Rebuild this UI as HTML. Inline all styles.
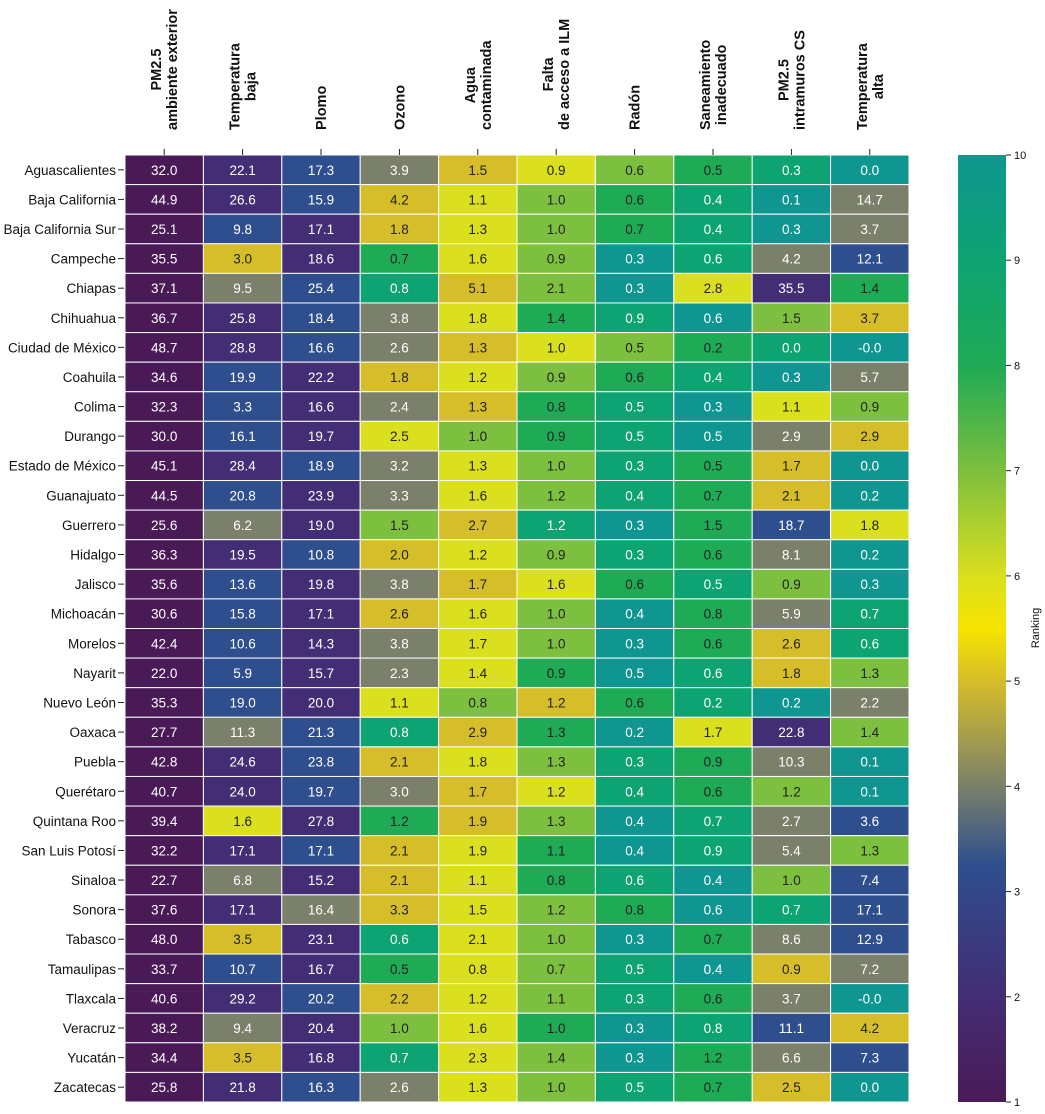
<!DOCTYPE html>
<html><head><meta charset="utf-8">
<style>
body{margin:0;background:#fff;font-family:"Liberation Sans","DejaVu Sans",sans-serif;}
svg text{font-family:"Liberation Sans","DejaVu Sans",sans-serif;}
</style></head>
<body>
<svg id="chart" width="1045" height="1109" xmlns="http://www.w3.org/2000/svg">
<defs>
<linearGradient id="cbar" x1="0" y1="1" x2="0" y2="0">
<stop offset="0" stop-color="#4a1a57"/>
<stop offset="0.111" stop-color="#432d74"/>
<stop offset="0.25" stop-color="#2e4e8e"/>
<stop offset="0.333" stop-color="#7a806a"/>
<stop offset="0.444" stop-color="#d6bd2a"/>
<stop offset="0.5" stop-color="#f6e400"/>
<stop offset="0.555" stop-color="#dadf1e"/>
<stop offset="0.666" stop-color="#7dbf3f"/>
<stop offset="0.777" stop-color="#1faa55"/>
<stop offset="0.888" stop-color="#0ea372"/>
<stop offset="1" stop-color="#0f9690"/>
</linearGradient>
</defs>
<g id="cells"></g>
<g id="rowlabels"></g>
<g id="collabels"></g>
<g id="colorbar">
<rect x="958" y="155" width="48" height="947" fill="url(#cbar)"/>
</g>
</svg>
<script>
const columns=[["PM2.5","ambiente exterior"],["Temperatura","baja"],["Plomo"],["Ozono"],["Agua","contaminada"],["Falta","de acceso a ILM"],["Radón"],["Saneamiento","inadecuado"],["PM2.5","intramuros CS"],["Temperatura","alta"]];
const states=["Aguascalientes","Baja California","Baja California Sur","Campeche","Chiapas","Chihuahua","Ciudad de México","Coahuila","Colima","Durango","Estado de México","Guanajuato","Guerrero","Hidalgo","Jalisco","Michoacán","Morelos","Nayarit","Nuevo León","Oaxaca","Puebla","Querétaro","Quintana Roo","San Luis Potosí","Sinaloa","Sonora","Tabasco","Tamaulipas","Tlaxcala","Veracruz","Yucatán","Zacatecas"];
const values=[
["32.0","22.1","17.3","3.9","1.5","0.9","0.6","0.5","0.3","0.0"],
["44.9","26.6","15.9","4.2","1.1","1.0","0.6","0.4","0.1","14.7"],
["25.1","9.8","17.1","1.8","1.3","1.0","0.7","0.4","0.3","3.7"],
["35.5","3.0","18.6","0.7","1.6","0.9","0.3","0.6","4.2","12.1"],
["37.1","9.5","25.4","0.8","5.1","2.1","0.3","2.8","35.5","1.4"],
["36.7","25.8","18.4","3.8","1.8","1.4","0.9","0.6","1.5","3.7"],
["48.7","28.8","16.6","2.6","1.3","1.0","0.5","0.2","0.0","-0.0"],
["34.6","19.9","22.2","1.8","1.2","0.9","0.6","0.4","0.3","5.7"],
["32.3","3.3","16.6","2.4","1.3","0.8","0.5","0.3","1.1","0.9"],
["30.0","16.1","19.7","2.5","1.0","0.9","0.5","0.5","2.9","2.9"],
["45.1","28.4","18.9","3.2","1.3","1.0","0.3","0.5","1.7","0.0"],
["44.5","20.8","23.9","3.3","1.6","1.2","0.4","0.7","2.1","0.2"],
["25.6","6.2","19.0","1.5","2.7","1.2","0.3","1.5","18.7","1.8"],
["36.3","19.5","10.8","2.0","1.2","0.9","0.3","0.6","8.1","0.2"],
["35.6","13.6","19.8","3.8","1.7","1.6","0.6","0.5","0.9","0.3"],
["30.6","15.8","17.1","2.6","1.6","1.0","0.4","0.8","5.9","0.7"],
["42.4","10.6","14.3","3.8","1.7","1.0","0.3","0.6","2.6","0.6"],
["22.0","5.9","15.7","2.3","1.4","0.9","0.5","0.6","1.8","1.3"],
["35.3","19.0","20.0","1.1","0.8","1.2","0.6","0.2","0.2","2.2"],
["27.7","11.3","21.3","0.8","2.9","1.3","0.2","1.7","22.8","1.4"],
["42.8","24.6","23.8","2.1","1.8","1.3","0.3","0.9","10.3","0.1"],
["40.7","24.0","19.7","3.0","1.7","1.2","0.4","0.6","1.2","0.1"],
["39.4","1.6","27.8","1.2","1.9","1.3","0.4","0.7","2.7","3.6"],
["32.2","17.1","17.1","2.1","1.9","1.1","0.4","0.9","5.4","1.3"],
["22.7","6.8","15.2","2.1","1.1","0.8","0.6","0.4","1.0","7.4"],
["37.6","17.1","16.4","3.3","1.5","1.2","0.8","0.6","0.7","17.1"],
["48.0","3.5","23.1","0.6","2.1","1.0","0.3","0.7","8.6","12.9"],
["33.7","10.7","16.7","0.5","0.8","0.7","0.5","0.4","0.9","7.2"],
["40.6","29.2","20.2","2.2","1.2","1.1","0.3","0.6","3.7","-0.0"],
["38.2","9.4","20.4","1.0","1.6","1.0","0.3","0.8","11.1","4.2"],
["34.4","3.5","16.8","0.7","2.3","1.4","0.3","1.2","6.6","7.3"],
["25.8","21.8","16.3","2.6","1.3","1.0","0.5","0.7","2.5","0.0"]];
const cbTicks=[1,2,3,4,5,6,7,8,9,10];

const NS="http://www.w3.org/2000/svg";
const X0=125,X1=909,Y0=155,Y1=1102;
const cw=(X1-X0)/columns.length, rh=(Y1-Y0)/states.length;
const xPos=i=>X0+i*cw;
const yPos=j=>Y0+j*rh;
const rankColors=["#4a1a57","#432d74","#2e4e8e","#7a806a","#d6bd2a","#dadf1e","#7dbf3f","#1faa55","#0ea372","#0f9690"];
const darkText=[false,false,false,false,true,true,true,true,false,false];
function mk(tag,attrs,parent){const e=document.createElementNS(NS,tag);for(const k in attrs)e.setAttribute(k,attrs[k]);parent.appendChild(e);return e;}
const cells=document.getElementById('cells');
values.forEach((row,j)=>{
  const nums=row.map(parseFloat);
  const order=nums.map((v,i)=>i).sort((a,b)=>(nums[b]-nums[a])||(a-b));
  const rank=[];order.forEach((ci,r)=>rank[ci]=r);
  row.forEach((s,i)=>{
    const r=mk('rect',{x:xPos(i),y:yPos(j),width:cw,height:rh,fill:rankColors[rank[i]],stroke:'#ffffff','stroke-width':1},cells);
    
    
    const t=mk('text',{x:xPos(i)+cw/2,y:yPos(j)+rh/2+5,'text-anchor':'middle','font-size':13.5,fill:darkText[rank[i]]?'#222':'#fff'},cells);
    t.textContent=s;
    
    
  });
});
const rl=document.getElementById('rowlabels');
states.forEach((s,j)=>{
  const t=mk('text',{x:116,y:yPos(j)+rh/2+5,'text-anchor':'end','font-size':13.5,fill:'#111'},rl);
  t.textContent=s;
  
  
  mk('line',{x1:118,x2:124,y1:yPos(j)+rh/2,y2:yPos(j)+rh/2,stroke:'#222','stroke-width':1},rl);
});
const cl=document.getElementById('collabels');
columns.forEach((lines,i)=>{
  const cx=xPos(i)+cw/2;
  mk('line',{x1:cx,x2:cx,y1:149,y2:155,stroke:'#222','stroke-width':1},cl);
  const n=lines.length;
  lines.forEach((ln,k)=>{
    const off=(k-(n-1)/2)*16+5;
    const t=mk('text',{x:0,y:0,'text-anchor':'middle','font-size':14.5,'font-weight':'bold',fill:'#111',
      transform:`translate(${cx+off},${130-0}) rotate(-90)`},cl);
    t.textContent=ln;
    
    
  });
});
// align multi-line labels: center block on the longest line, bottom at y=130
Array.from(cl.querySelectorAll('text')).forEach(()=>{});
const groups={};
Array.from(cl.querySelectorAll('text')).forEach(t=>{
  const tr=t.getAttribute('transform');const key=Math.round(parseFloat(tr.match(/translate\(([\d.]+)/)[1]/ 200*0)+0);
});
columns.forEach((lines,i)=>{
  const texts=Array.from(cl.querySelectorAll('text')).filter((t,idx)=>true);
});
(function(){
  const all=Array.from(cl.querySelectorAll('text'));
  let idx=0;
  columns.forEach(lines=>{
    const grp=all.slice(idx,idx+lines.length);idx+=lines.length;
    const maxW=Math.max(...grp.map(t=>t.getComputedTextLength()));
    grp.forEach(t=>{
      const tr=t.getAttribute('transform');
      const x=parseFloat(tr.match(/translate\(([\d.]+)/)[1]);
      t.setAttribute('transform',`translate(${x},${130-maxW/2}) rotate(-90)`);
    });
  });
})();
const cb=document.getElementById('colorbar');
cbTicks.forEach(v=>{
  const y=Y1-(v-1)/9*(Y1-Y0);
  mk('line',{x1:1006,x2:1011,y1:y,y2:y,stroke:'#222','stroke-width':1},cb);
  const t=mk('text',{x:1014,y:y+4,'font-size':11,fill:'#111'},cb);
  t.textContent=v;
  
  
});
const lab=mk('text',{x:0,y:0,'text-anchor':'middle','font-size':11,fill:'#111',transform:'translate(1039,628) rotate(-90)'},cb);
lab.textContent='Ranking';


</script>
</body></html>
